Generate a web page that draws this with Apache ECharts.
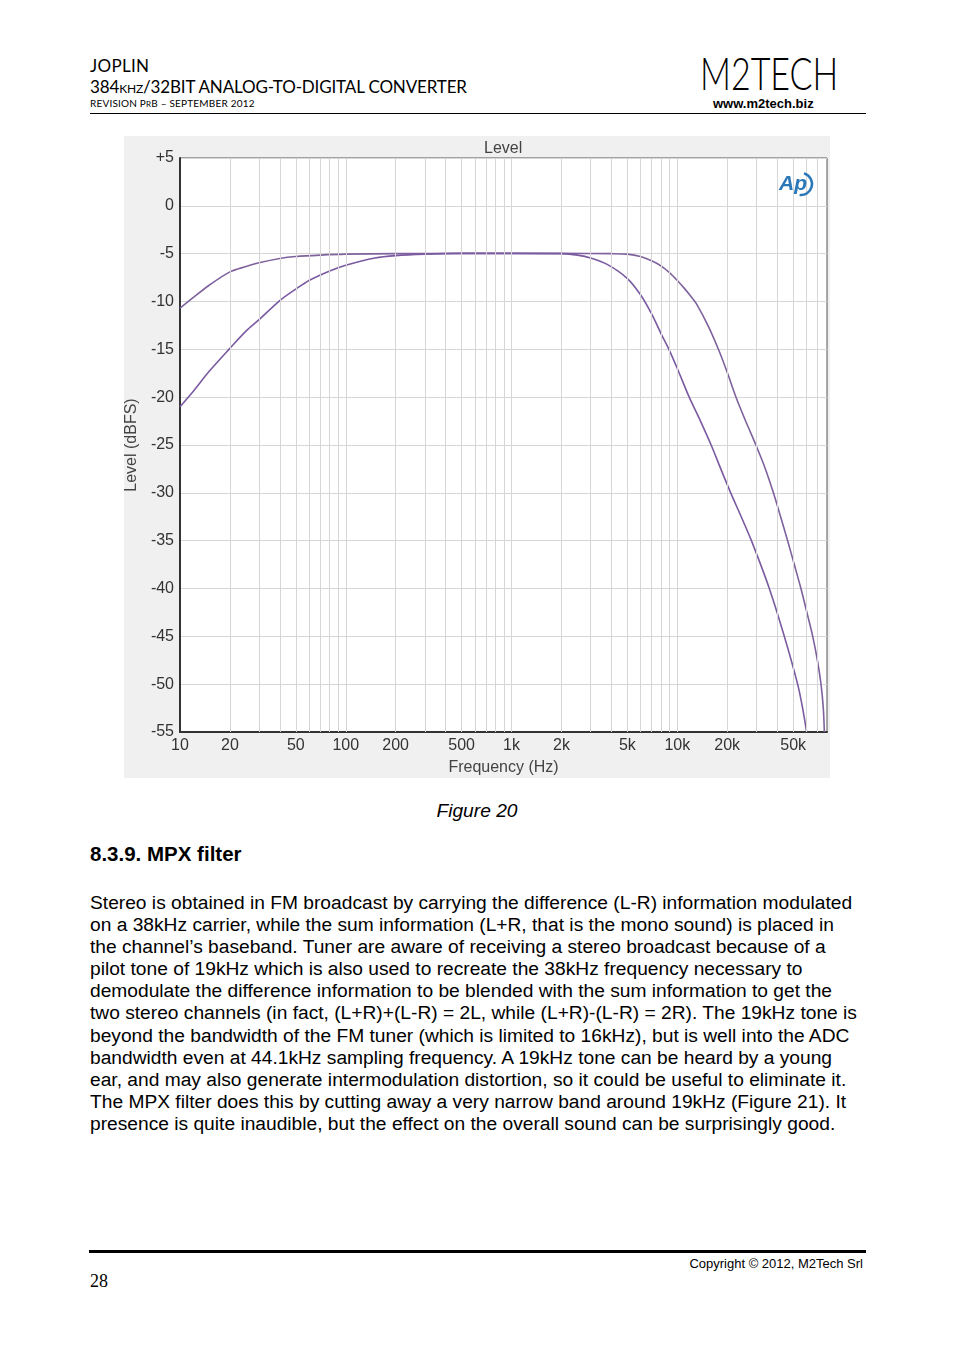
<!DOCTYPE html>
<html>
<head>
<meta charset="utf-8">
<script src="https://cdn.jsdelivr.net/npm/echarts@6/dist/echarts.min.js"></script>
<style>
  html,body{margin:0;padding:0;background:#fff;}
  body{width:954px;height:1351px;position:relative;overflow:hidden;font-family:"Liberation Sans",Arial,sans-serif;color:#000;}
  .abs{position:absolute;white-space:nowrap;}
  .hdr{font-family:Lato,"Open Sans",sans-serif;font-weight:400;}
  #chart{position:absolute;left:124px;top:136px;width:706px;height:642px;}
  .para div{height:22.1px;line-height:22.1px;font-size:19.2px;}
</style>
</head>
<body>
<div class="abs hdr" style="left:90px;top:56px;font-size:17px;line-height:20px;letter-spacing:0.3px;">JOPLIN</div>
<div class="abs hdr" style="left:90px;top:77px;font-size:17px;line-height:20px;letter-spacing:-0.15px;">384<span style="font-size:12px;">KHZ</span>/32BIT ANALOG-TO-DIGITAL CONVERTER</div>
<div class="abs hdr" style="left:90px;top:97px;font-size:10px;line-height:13px;letter-spacing:0.2px;">REVISION P<span style="font-size:8px;">R</span>B – SEPTEMBER 2012</div>
<div class="abs" style="left:700px;top:46px;font-family:Lato,sans-serif;font-weight:300;font-size:46px;line-height:54px;transform:scaleX(0.74);transform-origin:left top;">M2TECH</div>
<div class="abs" style="left:713px;top:96px;font-size:13px;line-height:16px;font-weight:bold;">www.m2tech.biz</div>
<div class="abs" style="left:90px;top:113px;width:776px;height:1px;background:#000;"></div>

<div id="chart"></div>

<div class="abs" style="left:0;width:954px;text-align:center;top:800px;font-size:19.2px;line-height:22px;font-style:italic;">Figure 20</div>
<div class="abs" style="left:90px;top:842px;font-size:20.5px;line-height:24px;font-weight:bold;">8.3.9. MPX filter</div>
<div class="abs para" style="left:90px;top:892px;">
<div>Stereo is obtained in FM broadcast by carrying the difference (L-R) information modulated</div>
<div>on a 38kHz carrier, while the sum information (L+R, that is the mono sound) is placed in</div>
<div>the channel’s baseband. Tuner are aware of receiving a stereo broadcast because of a</div>
<div>pilot tone of 19kHz which is also used to recreate the 38kHz frequency necessary to</div>
<div>demodulate the difference information to be blended with the sum information to get the</div>
<div>two stereo channels (in fact, (L+R)+(L-R) = 2L, while (L+R)-(L-R) = 2R). The 19kHz tone is</div>
<div>beyond the bandwidth of the FM tuner (which is limited to 16kHz), but is well into the ADC</div>
<div>bandwidth even at 44.1kHz sampling frequency. A 19kHz tone can be heard by a young</div>
<div>ear, and may also generate intermodulation distortion, so it could be useful to eliminate it.</div>
<div>The MPX filter does this by cutting away a very narrow band around 19kHz (Figure 21). It</div>
<div>presence is quite inaudible, but the effect on the overall sound can be surprisingly good.</div>
</div>

<div class="abs" style="left:89px;top:1250px;width:777px;height:3px;background:#000;"></div>
<div class="abs" style="right:91px;top:1256px;font-size:13px;line-height:15px;">Copyright © 2012, M2Tech Srl</div>
<div class="abs" style="left:90px;top:1271px;font-family:'Liberation Serif','Times New Roman',serif;font-size:18px;line-height:20px;">28</div>

<script>
// ---- data ----
const freqWide  = [10,12,15,20,25,30,40,50,70,100,200,500,1000,2000,4000,5000,6000,7000,8000,9000,10000,11000,12000,13000,15400,17800,20000,22600,26000,29800,34000,38000,42000,46300,50800,55700,60500,65600,70000,73600,76000,77100];
const levelWide = [-10.7,-9.6,-8.3,-6.9,-6.35,-5.95,-5.5,-5.3,-5.15,-5.05,-5.0,-4.97,-4.97,-4.97,-5.0,-5.05,-5.3,-5.75,-6.3,-7.0,-7.8,-8.6,-9.4,-10.2,-12.6,-15.1,-17.4,-20,-22.6,-25,-27.5,-30,-32.5,-35,-37.5,-40,-42.5,-45,-47.5,-50,-52.5,-55];
const freqNarrow  = [10,12,15,20,25,30,40,50,60,80,100,150,200,300,500,1000,2000,2500,3000,3800,5000,6000,7000,8000,8900,10000,11800,13800,16000,18300,21000,24300,28000,35900,44200,53200,57000,60300];
const levelNarrow = [-21.0,-19.4,-17.3,-14.9,-13.1,-11.9,-9.9,-8.7,-7.8,-6.8,-6.2,-5.45,-5.2,-5.05,-4.97,-4.97,-5.0,-5.15,-5.45,-6.15,-7.6,-9.3,-11.3,-13.4,-15,-17.0,-20,-22.5,-25,-27.5,-30,-32.5,-35,-40,-45,-50,-52.5,-55];
const xTickLabels = [10,20,50,100,200,500,1000,2000,5000,10000,20000,50000];
const xGridValues = [20,30,40,50,60,70,80,90,100,200,300,400,500,600,700,800,900,1000,2000,3000,4000,5000,6000,7000,8000,9000,10000,20000,30000,40000,50000,60000,70000];
const yMin = -55, yMax = 5, yStep = 5;
const xMin = 10, xMax = 80000;

const zip = (a, b) => a.map((v, i) => [v, b[i]]);
const fmtHz = v => v >= 1000 ? (v / 1000) + 'k' : String(v);

const chart = echarts.init(document.getElementById('chart'), null, {renderer: 'canvas'});
const font = '"Liberation Sans", Arial, sans-serif';
chart.setOption({
  backgroundColor: '#f0f0f0',
  animation: false,
  title: {
    text: 'Level', left: 355, top: 0,
    textStyle: {fontFamily: font, fontSize: 16, fontWeight: 'normal', color: '#444'}
  },
  grid: {
    left: 56, top: 22, right: 3, bottom: 46,
    containLabel: false, outerBoundsMode: 'none',
    show: true, backgroundColor: '#fff', borderColor: '#555', borderWidth: 1
  },
  xAxis: {
    type: 'log', logBase: 10, min: xMin, max: xMax,
    name: 'Frequency (Hz)', nameLocation: 'middle', nameGap: 28,
    nameTextStyle: {fontFamily: font, fontSize: 16, color: '#444'},
    axisLine: {show: true, onZero: false, lineStyle: {color: '#333', width: 2}},
    axisTick: {show: false},
    splitLine: {show: false},
    minorTick: {show: false},
    axisLabel: {
      customValues: xTickLabels,
      formatter: v => fmtHz(Math.round(v)),
      fontFamily: font, fontSize: 16, color: '#333', margin: 6
    }
  },
  yAxis: {
    type: 'value', min: yMin, max: yMax, interval: yStep,
    name: 'Level (dBFS)', nameLocation: 'middle', nameRotate: 90, nameGap: 33,
    nameTextStyle: {fontFamily: font, fontSize: 16, color: '#444'},
    axisLine: {show: true, onZero: false, lineStyle: {color: '#333', width: 2}},
    axisTick: {show: false},
    splitLine: {show: true, lineStyle: {color: '#d6d6d6', width: 1}},
    axisLabel: {
      formatter: v => v > 0 ? '+' + v : String(v),
      fontFamily: font, fontSize: 16, color: '#333', margin: 6
    }
  },
  series: [
    {
      type: 'line', name: 'grid', z: 1, silent: true,
      data: [[xMin, yMin]], showSymbol: false, symbol: 'none',
      lineStyle: {opacity: 0},
      markLine: {
        silent: true, symbol: ['none', 'none'], animation: false,
        label: {show: false},
        lineStyle: {color: '#d6d6d6', width: 1, type: 'solid'},
        emphasis: {disabled: true},
        data: xGridValues.map(v => ({xAxis: v}))
      }
    },
    {
      type: 'line', name: 'Wide', z: 3, smooth: 0.3, symbol: 'none',
      data: zip(freqWide, levelWide),
      lineStyle: {color: '#7f629d', width: 1.6}
    },
    {
      type: 'line', name: 'Narrow', z: 4, smooth: 0.3, symbol: 'none',
      data: zip(freqNarrow, levelNarrow),
      lineStyle: {color: '#7a5aa0', width: 1.6}
    }
  ],
  graphic: [
    {
      type: 'text', left: 655, top: 38, z: 10,
      style: {text: 'Ap', font: 'italic bold 21px "Liberation Sans", Arial, sans-serif', fill: '#2a78b8'}
    },
    {
      type: 'arc', z: 10,
      shape: {cx: 677, cy: 48, r: 11, startAngle: -1.3, endAngle: 1.7},
      style: {stroke: '#2a78b8', lineWidth: 2.5, fill: 'none'}
    }
  ]
});
</script>
</body>
</html>
